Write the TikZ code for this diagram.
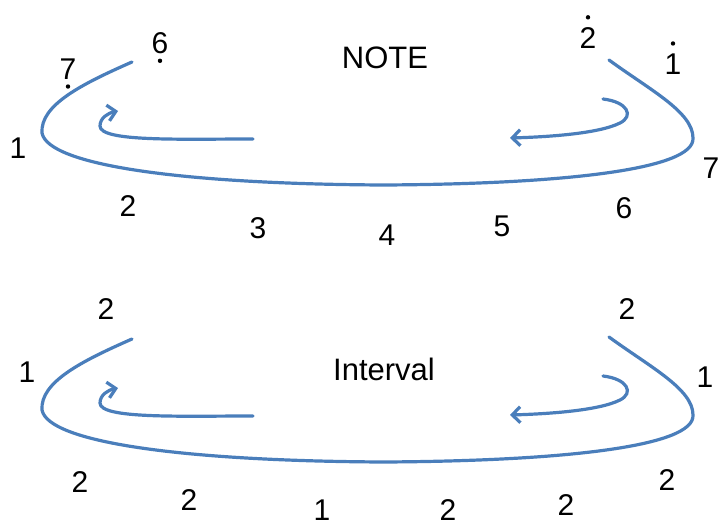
\documentclass[tikz,border=0pt]{standalone}
\usepackage{fontspec}
\setmainfont{Liberation Sans}
\usetikzlibrary{arrows.meta}

\definecolor{curveblue}{RGB}{74,126,187}

\begin{document}
\begin{tikzpicture}[
      x=1pt, y=-1pt,
      curve/.style={curveblue, line width=3.2pt, line cap=round},
      tip/.style={-{Straight Barb[length=8pt,width=16pt]}},
      num/.style={font=\fontsize{30}{32}\selectfont, inner sep=0pt},
      lbl/.style={font=\fontsize{31}{33}\selectfont, inner sep=0pt},
      octdot/.style={fill=black}
    ]
    \useasboundingbox (0,0) rectangle (721,527);

    % Kurven (oben und unten gleich)
    \foreach \dy in {0,277} {
      \begin{scope}[shift={(0,\dy)}]
        \draw[curve] (132,62) .. controls (82,84) and (40,105) .. (42,133)
          .. controls (48,165) and (180,184) .. (384,185)
          .. controls (560,184) and (695,170) .. (693,138)
          .. controls (693,112) and (650,90) .. (609,60);
        \draw[curve, tip] (253,139) .. controls (180,139) and (100,142) .. (100,126)
          .. controls (100,118) and (108,113) .. (118,111);
        \draw[curve, tip] (603,99) .. controls (628,102) and (634,116) .. (620,123)
          .. controls (598,134) and (545,137) .. (510,138);
      \end{scope}
    }

    % Noten
    \node[lbl] (note) at (385,58) {NOTE};
    \node[num] (t1) at (18,148) {1};
    \node[num] (t7lo) at (68,69) {7};
    \node[num] (t6lo) at (160,43) {6};
    \node[num] (t2hi) at (588,38) {2};
    \node[num] (t1hi) at (673,64) {1};
    \node[num] (t7) at (711,168) {7};
    \node[num] (t2) at (128,206) {2};
    \node[num] (t3) at (258,228) {3};
    \node[num] (t4) at (387,235) {4};
    \node[num] (t5) at (502,226) {5};
    \node[num] (t6) at (624,208) {6};

    % Oktavpunkte
    \fill[octdot] (t7lo.south) ++(0,7) circle (2.2);
    \fill[octdot] (t6lo.south) ++(0,7) circle (2.2);
    \fill[octdot] (t2hi.north) ++(0,-10) circle (2.2);
    \fill[octdot] (t1hi.north) ++(0,-10) circle (2.2);

    % Intervalle
    \node[lbl] (interval) at (384,369) {Interval};
    \node[num] (i1) at (27,372) {1};
    \node[num] (i2) at (106,309) {2};
    \node[num] (i3) at (627,309) {2};
    \node[num] (i4) at (705,377) {1};
    \node[num] (i5) at (80,482) {2};
    \node[num] (i6) at (189,500) {2};
    \node[num] (i7) at (322,510) {1};
    \node[num] (i8) at (448,510) {2};
    \node[num] (i9) at (566,505) {2};
    \node[num] (i10) at (667,480) {2};
  \end{tikzpicture}
\end{document}
